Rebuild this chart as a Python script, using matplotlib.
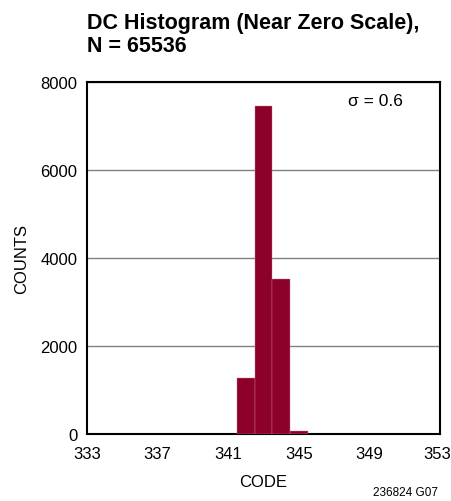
import matplotlib
matplotlib.use("Agg")
import matplotlib.pyplot as plt
from matplotlib.transforms import ScaledTranslation

codes = [342, 343, 344, 345]
counts = [1280, 7460, 3520, 70]
x_ticks = [333, 337, 341, 345, 349, 353]
y_ticks = [0, 2000, 4000, 6000, 8000]

plt.rcParams['font.family'] = ['Liberation Sans', 'DejaVu Sans']

fig = plt.figure(figsize=(4.52, 5.02), dpi=100)
ax = fig.add_axes([87/452, 1-435/502, 353/452, 352/502])

ax.bar(codes, counts, width=1.0, color='#8C0029', edgecolor='#C87890', linewidth=0.3, zorder=3)

ax.set_xlim(333, 353)
ax.set_ylim(0, 8000)
ax.set_xticks(x_ticks)
ax.set_yticks(y_ticks)
ax.tick_params(axis='both', length=0, labelsize=12)
ax.tick_params(axis='x', pad=9)
ax.tick_params(axis='y', pad=7)
ax.grid(axis='y', color='#808080', linewidth=1.0, zorder=1)
for s in ax.spines.values():
    s.set_linewidth(1.5)
    s.set_color('black')

# keep the last x tick label inside the figure
lbl = ax.get_xticklabels()[-1]
lbl.set_transform(lbl.get_transform() + ScaledTranslation(-3/100, 0, fig.dpi_scale_trans))

ax.set_xlabel('CODE', fontsize=12, labelpad=9)
ax.set_ylabel('COUNTS', fontsize=12, labelpad=8)

ax.text(0.895, 0.968, 'σ = 0.6', transform=ax.transAxes, ha='right', va='top', fontsize=12.5,
        family=['Liberation Sans', 'DejaVu Sans'])

fig.text(87/452, 1-13/502, 'DC Histogram (Near Zero Scale),\nN = 65536', ha='left', va='top',
         fontsize=15.5, fontweight='bold', linespacing=1.15)
fig.text(438/452, 1-499/502, '236824 G07', ha='right', va='bottom', fontsize=8.5)

fig.savefig('out.png', dpi=100)
